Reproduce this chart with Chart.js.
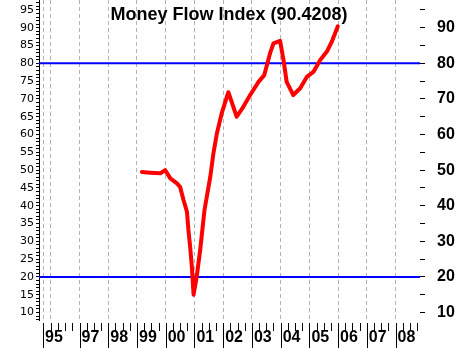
<!DOCTYPE html>
<html>
<head>
<meta charset="utf-8">
<script src="https://cdn.jsdelivr.net/npm/chart.js@4.4.1/dist/chart.umd.min.js"></script>
<style>
  html, body { margin: 0; padding: 0; background: #fff; }
  canvas { display: block; }
</style>
</head>
<body>
<canvas id="mfiChart" width="459" height="348"></canvas>
<script>
const titleText = "Money Flow Index (90.4208)";

// dates as fractional years
const mfiDates = [1999.17, 1999.46, 1999.81, 1999.98, 2000.16, 2000.39, 2000.50, 2000.62, 2000.74, 2000.79,
  2000.85, 2000.91, 2000.97, 2001.08, 2001.20, 2001.35, 2001.55, 2001.66, 2001.78, 2001.95,
  2002.18, 2002.47, 2002.70, 2002.94, 2003.23, 2003.43, 2003.63, 2003.75, 2003.98, 2004.10,
  2004.21, 2004.44, 2004.68, 2004.91, 2005.14, 2005.37, 2005.61, 2005.78, 2005.99];
const mfiValues = [49.5, 49.3, 49.1, 50.0, 47.7, 46.3, 45.3, 41.6, 38.3, 33.2,
  28.5, 22.9, 15.0, 20.1, 27.6, 38.8, 48.1, 54.7, 60.3, 66.0,
  71.9, 65.0, 67.8, 71.1, 74.8, 76.7, 82.8, 85.6, 86.3, 80.9,
  74.8, 71.1, 73.0, 76.2, 77.6, 80.9, 83.3, 86.1, 90.42];

const upperLevel = 80;
const lowerLevel = 20;

const yearTicks = [1995.73, 1996, 1997, 1998, 1999, 2000, 2001, 2002, 2003, 2004, 2005, 2006, 2007, 2008];
const yearLabels = ["95", "", "97", "98", "99", "00", "01", "02", "03", "04", "05", "06", "07", "08"];
const rightTicks = [10, 15, 20, 25, 30, 35, 40, 45, 50, 55, 60, 65, 70, 75, 80, 85, 90, 95];

const xMin = 1995.59, xMax = 2008.85;
const yMin = 7.9, yMax = 97.8;

const leftTicks = [];
for (let v = 8; v <= 97; v++) leftTicks.push(v);

const toPoints = (xs, ys) => xs.map((x, i) => ({ x: x, y: ys[i] }));

// keep the plot area edge to edge
function noPad(s) {
  s.paddingTop = 0;
  s.paddingBottom = 0;
  s.paddingLeft = 0;
  s.paddingRight = 0;
}

// year bars, quarter ticks and title
const axisMarks = {
  id: 'axisMarks',
  afterDraw(chart) {
    const ctx = chart.ctx;
    const xs = chart.scales.x;
    const bottom = chart.chartArea.bottom;
    ctx.save();
    ctx.strokeStyle = '#000';
    ctx.lineWidth = 1;
    ctx.beginPath();
    yearTicks.forEach((yr, i) => {
      if (!yearLabels[i]) return;
      const px = Math.round(xs.getPixelForValue(yr)) + 0.5;
      ctx.moveTo(px, bottom + 3);
      ctx.lineTo(px, chart.height);
    });
    for (let q = 1996; q < 2009; q += 0.25) {
      if (Number.isInteger(q) && q !== 1996) continue;
      const px = Math.round(xs.getPixelForValue(q)) + 0.5;
      ctx.moveTo(px, bottom + 3);
      ctx.lineTo(px, bottom + 11);
    }
    ctx.stroke();

    ctx.fillStyle = '#000';
    ctx.font = 'bold 18px "Liberation Sans", Arial, sans-serif';
    ctx.textAlign = 'center';
    ctx.textBaseline = 'alphabetic';
    ctx.fillText(titleText, 229, 20);
    ctx.restore();
  }
};

const ctx = document.getElementById('mfiChart').getContext('2d');
new Chart(ctx, {
  type: 'line',
  data: {
    datasets: [{
      data: toPoints(mfiDates, mfiValues),
      borderColor: '#ff0000',
      borderWidth: 4,
      borderJoinStyle: 'round',
      borderCapStyle: 'round',
      pointRadius: 0,
      tension: 0
    }, {
      data: toPoints([xMin, xMax], [upperLevel, upperLevel]),
      borderColor: '#0000ff',
      borderWidth: 2,
      pointRadius: 0
    }, {
      data: toPoints([xMin, xMax], [lowerLevel, lowerLevel]),
      borderColor: '#0000ff',
      borderWidth: 2,
      pointRadius: 0
    }]
  },
  options: {
    responsive: false,
    animation: false,
    layout: { padding: 0 },
    plugins: {
      legend: { display: false },
      tooltip: { enabled: false },
      title: { display: false }
    },
    scales: {
      x: {
        type: 'linear',
        bounds: 'data',
        min: xMin,
        max: xMax,
        afterBuildTicks: (s) => { s.ticks = yearTicks.map(v => ({ value: v })); },
        afterFit: (s) => { s.height = 28; noPad(s); },
        grid: { color: '#b4b4b4', lineWidth: 1, drawTicks: false },
        border: { display: false, dash: [4, 3] },
        ticks: {
          autoSkip: false,
          maxRotation: 0,
          align: 'start',
          labelOffset: 2,
          padding: 8,
          color: '#000',
          font: { family: 'Liberation Sans', size: 16, weight: 'bold' },
          callback: (v, i) => yearLabels[i]
        }
      },
      y: {
        position: 'left',
        bounds: 'data',
        min: yMin,
        max: yMax,
        afterBuildTicks: (s) => { s.ticks = leftTicks.map(v => ({ value: v })); },
        afterFit: (s) => { s.width = 39; noPad(s); },
        grid: { drawOnChartArea: false, tickLength: 3, tickColor: '#000' },
        border: { display: true, color: '#000', width: 1 },
        ticks: {
          autoSkip: false,
          padding: 2,
          color: '#000',
          font: { family: 'DejaVu Sans', size: 11 },
          callback: (v) => (v % 5 === 0 ? String(v) : '')
        }
      },
      y2: {
        position: 'right',
        bounds: 'data',
        min: yMin,
        max: yMax,
        afterBuildTicks: (s) => { s.ticks = rightTicks.map(v => ({ value: v })); },
        afterFit: (s) => { s.width = 39; noPad(s); },
        grid: { drawOnChartArea: false, tickLength: 5, tickColor: '#000' },
        border: { display: false },
        ticks: {
          autoSkip: false,
          padding: 12,
          color: '#000',
          font: { family: 'Liberation Sans', size: 16, weight: 'bold' },
          callback: (v) => (v % 10 === 0 ? String(v) : '')
        }
      }
    }
  },
  plugins: [axisMarks]
});
</script>
</body>
</html>
